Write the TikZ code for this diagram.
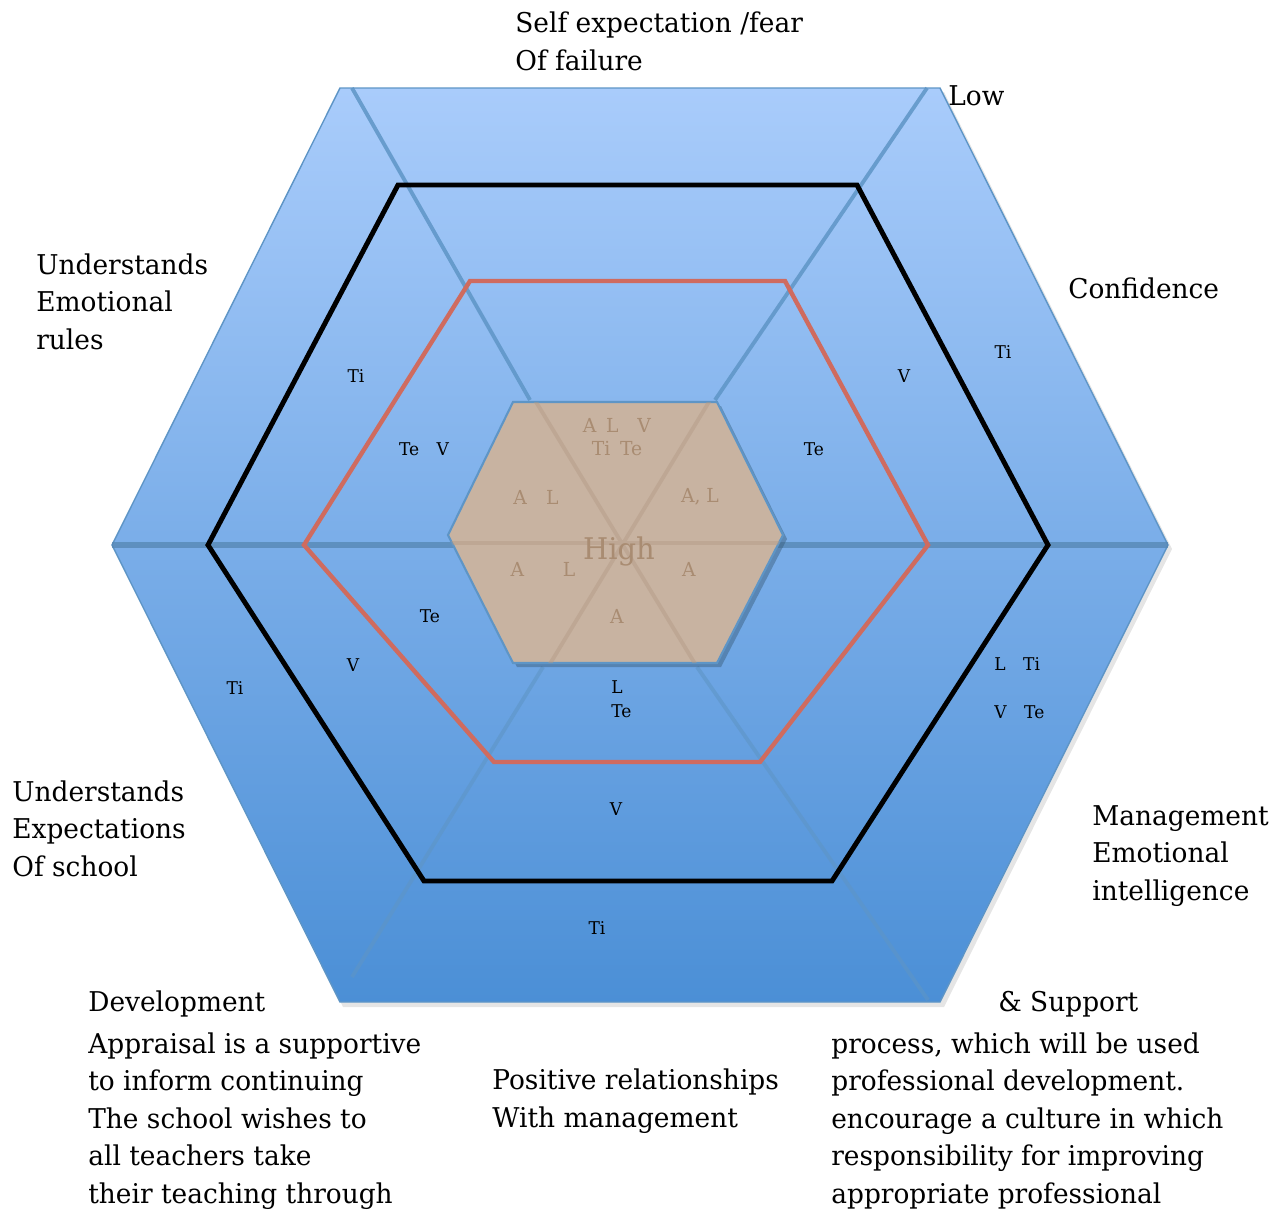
\documentclass[tikz,border=0pt]{standalone}
\usepackage{fontspec}
\setmainfont{DejaVu Serif}[FakeStretch=0.97]
\definecolor{bandtop}{HTML}{A9CCFB}
\definecolor{bandbottom}{HTML}{4B8FD6}
\definecolor{divider}{HTML}{5E95C6}
\definecolor{redring}{HTML}{CF6B5F}
\definecolor{tancore}{HTML}{C8B3A1}
\definecolor{tanline}{HTML}{B39A85}
\definecolor{tantext}{HTML}{A98C72}
\tikzset{
    axis-label/.style = {font=\fontsize{15.5}{21.3}\selectfont, align=left, anchor=base west, inner sep=0pt},
    band-label/.style = {font=\fontsize{10}{14}\selectfont, inner sep=0pt},
    core-label/.style = {font=\fontsize{11}{13}\selectfont, text=tantext, inner sep=0pt},
    divider-line/.style = {draw=divider, line width=2.2pt, opacity=.85},
    ring/.style = {line width=2.8pt, line join=miter},
}

\begin{document}
\begin{tikzpicture}[x=0.02cm, y=-0.02cm]
\useasboundingbox (0,0) rectangle (1282,1211);
\fill[black, opacity=.1] (343,92) -- (944,92) -- (1172,549) -- (944,1007) -- (343,1007) -- (116,549) -- cycle;
\shade[top color=bandtop, bottom color=bandbottom, draw=divider, line width=.8pt] (340,88) -- (940,88) -- (1168,545) -- (940,1002) -- (340,1002) -- (112,545) -- cycle;
\draw[divider-line] (352,88) -- (530,400);
\draw[divider-line] (927,88) -- (715,400);
\draw[divider-line, opacity=.6] (352,977) -- (543,667);
\draw[divider-line, opacity=.6] (928,1000) -- (697,667);
\draw[divider-line, draw=divider!90!black, line width=3pt, opacity=.75] (112,545) -- (1168,545);
\draw[ring, black] (398,185) -- (857,185) -- (1048,545) -- (832,881) -- (424,881) -- (208,545) -- cycle;
\draw[ring, redring, line width=2.5pt] (470,281) -- (785,281) -- (928,545) -- (760,762) -- (494,762) -- (304,545) -- cycle;
\fill[divider!60!black, opacity=.45] (517,406) -- (721,406) -- (787,539) -- (721,667) -- (517,667) -- (452,539) -- cycle;
\filldraw[fill=tancore, draw=divider, line width=1.2pt] (513,402) -- (717,402) -- (783,535) -- (717,663) -- (513,663) -- (448,535) -- cycle;
\begin{scope}
\clip (513,402) -- (717,402) -- (783,535) -- (717,663) -- (513,663) -- (448,535) -- cycle;
\draw[tanline, line width=2.2pt, opacity=.45] (530,392) -- (700,672) (715,392) -- (545,672) (440,543) -- (790,543);
\end{scope}

\node[core-label, align=center] (coretop) at (617,437) {A\enspace L\enspace\, V\\Ti\enspace Te};
\node[core-label] (coreleft) at (536,497) {A\quad L};
\node[core-label] (coreright) at (700,497) {A, L};
\node[core-label, font=\fontsize{17}{19}\selectfont] (high) at (619,551) {High};
\node[core-label] (corelowleft) at (543,569) {A\qquad L};
\node[core-label] (corelowright) at (689,569) {A};
\node[core-label] (corebottom) at (617,616) {A};

\node[band-label] (ti-nw) at (356,376) {Ti};
\node[band-label] (tev-nw) at (424,449) {Te\quad V};
\node[band-label] (v-ne) at (904,376) {V};
\node[band-label] (ti-ne) at (1003,352) {Ti};
\node[band-label] (te-ne) at (814,449) {Te};
\node[band-label] (te-sw) at (430,616) {Te};
\node[band-label] (v-sw) at (353,665) {V};
\node[band-label] (ti-sw) at (235,688) {Ti};
\node[band-label, align=left, anchor=north west] (lte-s) at (611,680) {L\\Te};
\node[band-label] (v-s) at (616,809) {V};
\node[band-label] (ti-s) at (597,928) {Ti};
\node[band-label, align=left, anchor=north west, font=\fontsize{10}{27.5}\selectfont] (ltivte-se) at (994,657) {L\quad Ti\\V\quad Te};

\node[axis-label] (selfexp) at (515,70) {Self expectation /fear\\Of failure};
\node[axis-label] (low) at (948,105) {Low};
\node[axis-label] (confidence) at (1068,298) {Confidence};
\node[axis-label] (emorules) at (36,349) {Understands\\Emotional\\rules};
\node[axis-label] (expschool) at (12,876) {Understands\\Expectations\\Of school};
\node[axis-label] (mgmt) at (1092,900) {Management\\Emotional\\intelligence};
\node[axis-label] (devel) at (88,1011) {Development};
\node[axis-label] (support) at (998,1011) {\& Support};
\node[axis-label] (appraisal) at (88,1203) {Appraisal is a supportive\\to inform continuing\\The school wishes to\\all teachers take\\their teaching through};
\node[axis-label] (positive) at (492,1127) {Positive relationships\\With management};
\node[axis-label] (process) at (831,1203) {process, which will be used\\professional development.\\encourage a culture in which\\responsibility for improving\\appropriate professional};
\end{tikzpicture}
\end{document}
